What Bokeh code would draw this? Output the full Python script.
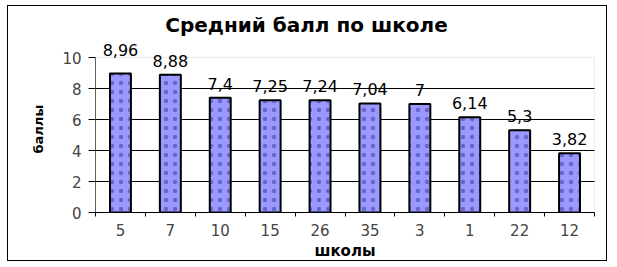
from bokeh.plotting import figure
from bokeh.layouts import column
from bokeh.models import (ColumnDataSource, FixedTicker, BoxAnnotation, LabelSet, Label,
                          Range1d, Title)
from bokeh.core.properties import value
from bokeh.embed import file_html
from bokeh.resources import INLINE

schools = ["5", "7", "10", "15", "26", "35", "3", "1", "22", "12"]
scores = [8.96, 8.88, 7.4, 7.25, 7.24, 7.04, 7, 6.14, 5.3, 3.82]
score_labels = ["8,96", "8,88", "7,4", "7,25", "7,24", "7,04", "7", "6,14", "5,3", "3,82"]
y_ticks = [0, 2, 4, 6, 8, 10]
title_text = "Средний балл по школе"
x_title = "школы"
y_title = "баллы"

n = len(schools)
y_max = 10
xs = [i + 0.5 for i in range(n)]
offsets = [8] * n
offsets[0] = 18

src = ColumnDataSource(dict(x=xs, top=scores, label=score_labels, off=offsets))

FONT = "DejaVu Sans"

# pixel geometry inside the bordered box (598 x 254)
W, H = 598, 254
PL, PR, PT, PB = 87, 586, 51, 206       # plot area (data 0..n, 0..y_max)
px_x = (PR - PL) / n
px_y = (PB - PT) / y_max
x_end = n + (W - PR) / px_x
y_end = y_max + PT / px_y

p = figure(width=W, height=H, output_backend="svg", toolbar_location=None,
           x_range=Range1d(0, x_end), y_range=Range1d(0, y_end),
           min_border_left=PL, min_border_right=0, min_border_top=0, min_border_bottom=H - PB)
p.background_fill_color = "white"
p.border_fill_color = "white"
p.outline_line_color = None

# plot-area border (dotted grey)
p.add_layout(BoxAnnotation(left=0, right=n, bottom=0, top=y_max, fill_color=None,
                           line_color="#808080", line_dash="1 1", line_width=1,
                           level="underlay"))

p.vbar(x="x", top="top", width=0.42, source=src, fill_color="#9999ff",
       line_color="black", line_width=2, hatch_pattern=".", hatch_color="#6666cc",
       hatch_scale=9, hatch_weight=1)

labels = LabelSet(x="x", y="top", text="label", source=src, y_offset="off",
                  text_align="center", text_baseline="bottom", text_font=value(FONT),
                  text_font_size="16px", text_color="black")
p.add_layout(labels)

# chart title (centered on the whole chart box)
title_cx = (W / 2 - 1 - PL) / px_x
title_cy = (PB - 18.5) / px_y
p.add_layout(Label(x=title_cx, y=title_cy, text=title_text, text_align="center",
                   text_baseline="middle", text_font=FONT, text_font_size="20px",
                   text_font_style="bold", text_color="black"))

p.xgrid.grid_line_color = None
p.ygrid.ticker = FixedTicker(ticks=[2, 4, 6, 8])
p.ygrid.grid_line_color = "black"
if "cross_bounds" in p.ygrid.properties():
    p.ygrid.cross_bounds = (0, n)

ya = p.yaxis[0]
ya.ticker = FixedTicker(ticks=y_ticks)
ya.bounds = (0, y_max)
ya.axis_line_color = "#606060"
ya.major_tick_line_color = "black"
ya.major_tick_out = 7
ya.major_tick_in = 0
ya.minor_tick_line_color = None
ya.major_label_text_font = FONT
ya.major_label_text_font_size = "15px"
ya.major_label_standoff = 7

# y-axis title, centred on the 0..10 plot area
p.add_layout(Title(text=y_title, align="left", offset=59, standoff=28,
                   text_font=FONT, text_font_style="bold", text_font_size="13px",
                   text_color="black"), "left")

xa = p.xaxis[0]
xa.ticker = FixedTicker(ticks=xs, minor_ticks=list(range(n + 1)))
xa.bounds = (0, n)
xa.major_label_overrides = {x: s for x, s in zip(xs, schools)}
xa.axis_line_color = "black"
xa.major_tick_line_color = None
xa.minor_tick_line_color = "black"
xa.minor_tick_out = 4
xa.minor_tick_in = 0
xa.major_label_text_font = FONT
xa.major_label_text_font_size = "15px"
xa.major_label_standoff = 5

# x-axis title, centred on the 0..n plot area
p.add_layout(Title(text=x_title, align="left", offset=219, standoff=2,
                   text_font=FONT, text_font_style="bold", text_font_size="15px",
                   text_color="black"), "below")

layout = column(p, styles={"border": "1px solid black"}, margin=(5, 0, 0, 7))

open("out.html", "w").write(file_html(layout, INLINE))
